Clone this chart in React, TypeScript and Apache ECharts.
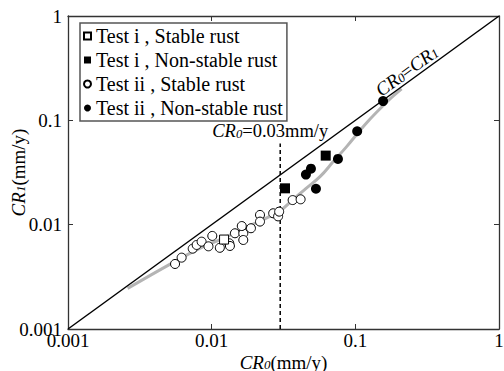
import React, { useEffect, useRef } from 'react';
import * as echarts from 'echarts';

const axisMin = 0.001;
const axisMax = 1;
const tickLabels = ['0.001', '0.01', '0.1', '1'];

const seriesNames = [
  'Test i , Stable rust',
  'Test i , Non-stable rust',
  'Test ii , Stable rust',
  'Test ii , Non-stable rust',
];

const testIStableX = [0.0122];
const testIStableY = [0.0072];

const testINonStableX = [0.0324, 0.0622];
const testINonStableY = [0.0223, 0.0459];

const testIIStableX = [
  0.00556, 0.00618, 0.00738, 0.00786, 0.00851, 0.0095, 0.0101, 0.0114, 0.01326, 0.0134,
  0.01452, 0.0166, 0.0166, 0.0162, 0.01877, 0.0217, 0.0217, 0.0268, 0.029, 0.0295,
  0.0366, 0.0416,
];
const testIIStableY = [
  0.0042, 0.00483, 0.00589, 0.00639, 0.00687, 0.0062, 0.0078, 0.006, 0.00663, 0.00625,
  0.00827, 0.00827, 0.00713, 0.0097, 0.00924, 0.0124, 0.0107, 0.01286, 0.012, 0.01333,
  0.0172, 0.0175,
];

const testIINonStableX = [0.0453, 0.0491, 0.0532, 0.0757, 0.103, 0.156];
const testIINonStableY = [0.0302, 0.0344, 0.0221, 0.0427, 0.0786, 0.153];

const trendX = [0.0026, 0.005, 0.008, 0.012, 0.018, 0.025, 0.03, 0.037, 0.045, 0.057, 0.07, 0.087, 0.12, 0.17, 0.21];
const trendY = [0.00245, 0.0041, 0.0058, 0.0074, 0.0096, 0.0119, 0.0136, 0.0175, 0.022, 0.029, 0.04, 0.056, 0.095, 0.155, 0.2];

const thresholdX = 0.03;
const thresholdTop = 0.06;
const diagLabelX = 0.25;

const FONT = 'Liberation Serif';

const zip = (xs: number[], ys: number[]) => xs.map((x, i) => [x, ys[i]]);

const fmt = (v: number) => {
  const s = Number(v.toPrecision(3)).toString();
  const idx = tickLabels.indexOf(s);
  return idx >= 0 ? tickLabels[idx] : '';
};

const nameRich = {
  i: { fontFamily: FONT, fontStyle: 'italic', fontSize: 19, color: '#000', lineHeight: 18, verticalAlign: 'middle' },
  s: { fontFamily: FONT, fontStyle: 'italic', fontSize: 13, color: '#000', lineHeight: 11, verticalAlign: 'bottom' },
  n: { fontFamily: FONT, fontSize: 19, color: '#000', lineHeight: 18, verticalAlign: 'middle' },
};

export default function App() {
  const ref = useRef<HTMLDivElement>(null);
  useEffect(() => {
    if (!ref.current) return;
    const chart = echarts.init(ref.current, null, { renderer: 'svg' });
    const axisLine = { show: true, lineStyle: { color: '#333', width: 1.3 } };
    const tick = { show: true, inside: true, length: 5, lineStyle: { color: '#333', width: 1 } };
    const label = { fontFamily: FONT, fontSize: 19, color: '#000', lineHeight: 14 };
    const option: any = {
      animation: false,
      backgroundColor: '#fff',
      grid: { left: 68, top: 16, right: 5, bottom: 42, containLabel: false, outerBoundsMode: 'none' },
      legend: {
        left: 80,
        top: 23,
        orient: 'vertical',
        itemWidth: 7,
        itemHeight: 7,
        itemGap: 4,
        padding: [3, 4, 3, 3],
        borderColor: '#555',
        borderWidth: 1.5,
        backgroundColor: '#fff',
        textStyle: { fontFamily: FONT, fontSize: 20, color: '#000', lineHeight: 19.5 },
        data: seriesNames,
      },
      xAxis: [
        {
          type: 'log', logBase: 10, min: axisMin, max: axisMax, position: 'bottom',
          axisLine, axisTick: tick, splitLine: { show: false },
          axisLabel: { ...label, margin: 4, formatter: fmt },
          name: '{i|CR}{s|0}{n|(mm/y)}', nameLocation: 'middle', nameGap: 24, nameMoveOverlap: false,
          nameTextStyle: { rich: nameRich },
        },
        {
          type: 'log', logBase: 10, min: axisMin, max: axisMax, position: 'top',
          axisLine, axisTick: tick, splitLine: { show: false }, axisLabel: { show: false },
        },
      ],
      yAxis: [
        {
          type: 'log', logBase: 10, min: axisMin, max: axisMax, position: 'left',
          axisLine, axisTick: tick, splitLine: { show: false },
          axisLabel: { ...label, margin: 6, formatter: fmt },
          name: '{i|CR}{s|1}{n|(mm/y)}', nameLocation: 'middle', nameGap: 41, nameRotate: 90, nameMoveOverlap: false,
          nameTextStyle: { rich: nameRich },
        },
        {
          type: 'log', logBase: 10, min: axisMin, max: axisMax, position: 'right',
          axisLine, axisTick: tick, splitLine: { show: false }, axisLabel: { show: false },
        },
      ],
      series: [
        {
          type: 'line', name: 'trend', data: zip(trendX, trendY), smooth: 0.4, symbol: 'none',
          lineStyle: { color: '#b4b4b4', width: 3 }, z: 1, silent: true,
        },
        {
          type: 'line', name: 'diag', data: [[axisMin, axisMin], [axisMax, axisMax]], symbol: 'none',
          lineStyle: { color: '#000', width: 1.5 }, z: 2, silent: true,
        },
        {
          type: 'line', name: 'threshold', data: [[thresholdX, axisMin], [thresholdX, thresholdTop]], symbol: 'none',
          lineStyle: { color: '#000', width: 1.5, type: [4, 3] }, z: 2, silent: true,
        },
        {
          type: 'scatter', name: seriesNames[0], data: zip(testIStableX, testIStableY), symbol: 'rect', symbolSize: 9,
          itemStyle: { color: '#fff', borderColor: '#000', borderWidth: 1, opacity: 1 }, z: 5,
        },
        {
          type: 'scatter', name: seriesNames[1], data: zip(testINonStableX, testINonStableY), symbol: 'rect', symbolSize: 10,
          itemStyle: { color: '#000', opacity: 1 }, z: 5,
        },
        {
          type: 'scatter', name: seriesNames[2], data: zip(testIIStableX, testIIStableY), symbol: 'circle', symbolSize: 9,
          itemStyle: { color: '#fff', borderColor: '#000', borderWidth: 1, opacity: 1 }, z: 4,
        },
        {
          type: 'scatter', name: seriesNames[3], data: zip(testIINonStableX, testIINonStableY), symbol: 'circle', symbolSize: 10,
          itemStyle: { color: '#000', opacity: 1 }, z: 5,
        },
      ],
    };
    chart.setOption(option);

    const tp = chart.convertToPixel({ xAxisIndex: 0, yAxisIndex: 0 }, [thresholdX, thresholdTop]) as number[];
    const dp = chart.convertToPixel({ xAxisIndex: 0, yAxisIndex: 0 }, [diagLabelX, diagLabelX]) as number[];
    const o = chart.convertToPixel({ xAxisIndex: 0, yAxisIndex: 0 }, [axisMin, axisMin]) as number[];
    const e = chart.convertToPixel({ xAxisIndex: 0, yAxisIndex: 0 }, [axisMax, axisMax]) as number[];
    const ang = Math.atan2(o[1] - e[1], e[0] - o[0]);
    const off = 10;
    const textRich = (size: number) => ({
      i: { fontFamily: FONT, fontStyle: 'italic', fontSize: size, fill: '#000', lineHeight: 18, verticalAlign: 'middle' },
      s: { fontFamily: FONT, fontStyle: 'italic', fontSize: size * 0.68, fill: '#000', lineHeight: 11, verticalAlign: 'bottom' },
      n: { fontFamily: FONT, fontSize: size, fill: '#000', lineHeight: 18, verticalAlign: 'middle' },
    });
    chart.setOption({
      graphic: [
        {
          type: 'text', x: tp[0] - 10, y: tp[1] - 12, z: 10,
          style: {
            text: '{i|CR}{s|0}{n|=0.03mm/y}', align: 'center', verticalAlign: 'middle',
            rich: textRich(18.5),
          },
        },
        {
          type: 'text', x: dp[0] - off * Math.sin(ang), y: dp[1] - off * Math.cos(ang), rotation: ang, z: 10,
          style: {
            text: '{i|CR}{s|0}{n|=}{i|CR}{s|1}', align: 'center', verticalAlign: 'middle',
            rich: textRich(19),
          },
        },
      ],
    });
    return () => chart.dispose();
  }, []);
  return <div ref={ref} style={{ position: 'fixed', left: 0, top: 0, width: 504, height: 371 }} />;
}
